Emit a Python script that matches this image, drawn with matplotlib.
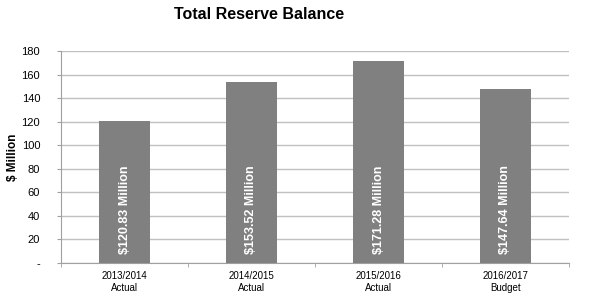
import numpy as np
import matplotlib.pyplot as plt

plt.rcParams['font.family'] = ['Liberation Sans', 'DejaVu Sans']

years = ['2013/2014', '2014/2015', '2015/2016', '2016/2017']
kinds = ['Actual', 'Actual', 'Actual', 'Budget']
balance = [120.83, 153.52, 171.28, 147.64]

fig = plt.figure(figsize=(6.06, 2.99), dpi=100)
ax = fig.add_axes([61/606, 1 - 263/299, 508/606, 212/299])

x = np.arange(len(years))
ax.bar(x, balance, width=0.4, color='#808080', zorder=3)

for xi, v in zip(x, balance):
    ax.text(xi, 8, '$%.2f Million' % v, rotation=90, ha='center', va='bottom',
            color='white', fontweight='bold', fontsize=9, zorder=4)

ax.set_xlim(-0.5, len(years) - 0.5)
ax.set_ylim(0, 180)
ax.set_yticks(range(0, 181, 20))
ax.set_yticklabels(['-'] + [str(t) for t in range(20, 181, 20)], fontsize=8)
ax.set_xticks(x)
ax.set_xticklabels([y + '\n' + k for y, k in zip(years, kinds)], fontsize=7)
ax.set_xticks(np.arange(-0.5, len(years)), minor=True)
ax.tick_params(axis='x', which='major', length=0, pad=6)
ax.tick_params(axis='x', which='minor', length=3, color='#a0a0a0')
ax.tick_params(axis='y', length=3, color='#a0a0a0', pad=12)
ax.grid(axis='y', color='#c0c0c0', linewidth=1, zorder=0)

for s in ['top', 'right']:
    ax.spines[s].set_visible(False)
for s in ['left', 'bottom']:
    ax.spines[s].set_color('#a0a0a0')

ax.set_ylabel('$ Million', fontweight='bold', fontsize=8.5)
ax.yaxis.set_label_coords(-0.082, 0.5)
fig.text(0.428, 0.953, 'Total Reserve Balance', ha='center', va='center',
         fontweight='bold', fontsize=11.5)

fig.savefig('out.png', dpi=100)
